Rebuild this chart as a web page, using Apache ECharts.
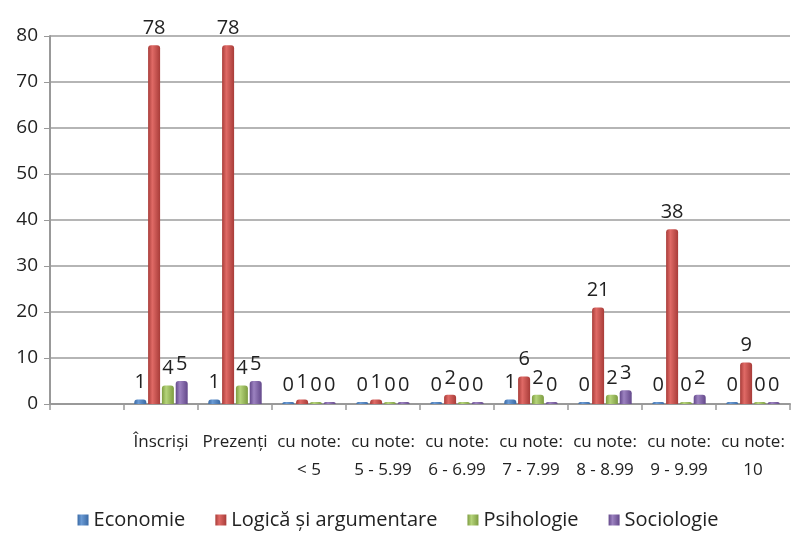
<!DOCTYPE html>
<html>
<head>
<meta charset="utf-8">
<script src="https://cdn.jsdelivr.net/npm/echarts@6/dist/echarts.min.js"></script>
<style>
  html, body { margin: 0; padding: 0; background: #fff; }
  #main { width: 796px; height: 539px; }
</style>
</head>
<body>
<div id="main"></div>
<script>
// first slot is empty in the original chart
var categories = ['', 'Înscriși', 'Prezenți', 'cu note:\n< 5', 'cu note:\n5 - 5.99', 'cu note:\n6 - 6.99',
                  'cu note:\n7 - 7.99', 'cu note:\n8 - 8.99', 'cu note:\n9 - 9.99', 'cu note:\n10'];
var economie   = [null, 1, 1, 0, 0, 0, 1, 0, 0, 0];
var logica     = [null, 78, 78, 1, 1, 2, 6, 21, 38, 9];
var psihologie = [null, 4, 4, 0, 0, 0, 2, 2, 0, 0];
var sociologie = [null, 5, 5, 0, 0, 0, 0, 3, 2, 0];
var yTicks = { min: 0, max: 80, interval: 10 };

var font = 'Open Sans';

function cyl(c1, c2) {
  return new echarts.graphic.LinearGradient(0, 0, 1, 0, [
    { offset: 0, color: c2 },
    { offset: 0.35, color: c1 },
    { offset: 1, color: c2 }
  ]);
}

function mkSeries(name, data, c1, c2) {
  return {
    name: name,
    type: 'bar',
    data: data,
    barWidth: 12,
    barGap: '15%',
    barMinHeight: 2,
    itemStyle: { color: cyl(c1, c2), borderRadius: [3, 3, 0, 0] },
    label: {
      show: true,
      position: 'top',
      distance: 7,
      color: '#222',
      fontFamily: font,
      fontSize: 20
    }
  };
}

var myChart = echarts.init(document.getElementById('main'));
var option = {
  animation: false,
  color: ['#4F81BD', '#C0504D', '#9BBB59', '#8064A2'],
  grid: { left: 50, right: 6, top: 36, bottom: 135 },
  legend: {
    bottom: 4,
    left: 'center',
    itemWidth: 11,
    itemHeight: 11,
    itemGap: 30,
    icon: 'rect',
    textStyle: { fontFamily: font, fontSize: 20, color: '#222' },
    data: ['Economie', 'Logică și argumentare', 'Psihologie', 'Sociologie']
  },
  xAxis: {
    type: 'category',
    data: categories,
    axisLine: { lineStyle: { color: '#999', width: 2 } },
    axisTick: { show: true, lineStyle: { color: '#999', width: 1.5 }, length: 6 },
    axisLabel: {
      interval: 0,
      margin: 24,
      color: '#222',
      fontFamily: font,
      fontSize: 17,
      lineHeight: 28
    }
  },
  yAxis: {
    type: 'value',
    min: yTicks.min,
    max: yTicks.max,
    interval: yTicks.interval,
    axisLine: { show: true, lineStyle: { color: '#999', width: 2 } },
    axisTick: { show: true, lineStyle: { color: '#999' }, length: 6 },
    axisLabel: { color: '#222', fontFamily: font, fontSize: 19, margin: 12 },
    splitLine: { lineStyle: { color: '#b5b5b5', width: 2 } }
  },
  series: [
    mkSeries('Economie', economie, '#6a9ad4', '#3a6aa5'),
    mkSeries('Logică și argumentare', logica, '#e06a66', '#a83c39'),
    mkSeries('Psihologie', psihologie, '#b5d47a', '#7d9c41'),
    mkSeries('Sociologie', sociologie, '#9c82c0', '#63488a')
  ]
};
myChart.setOption(option);
</script>
</body>
</html>
